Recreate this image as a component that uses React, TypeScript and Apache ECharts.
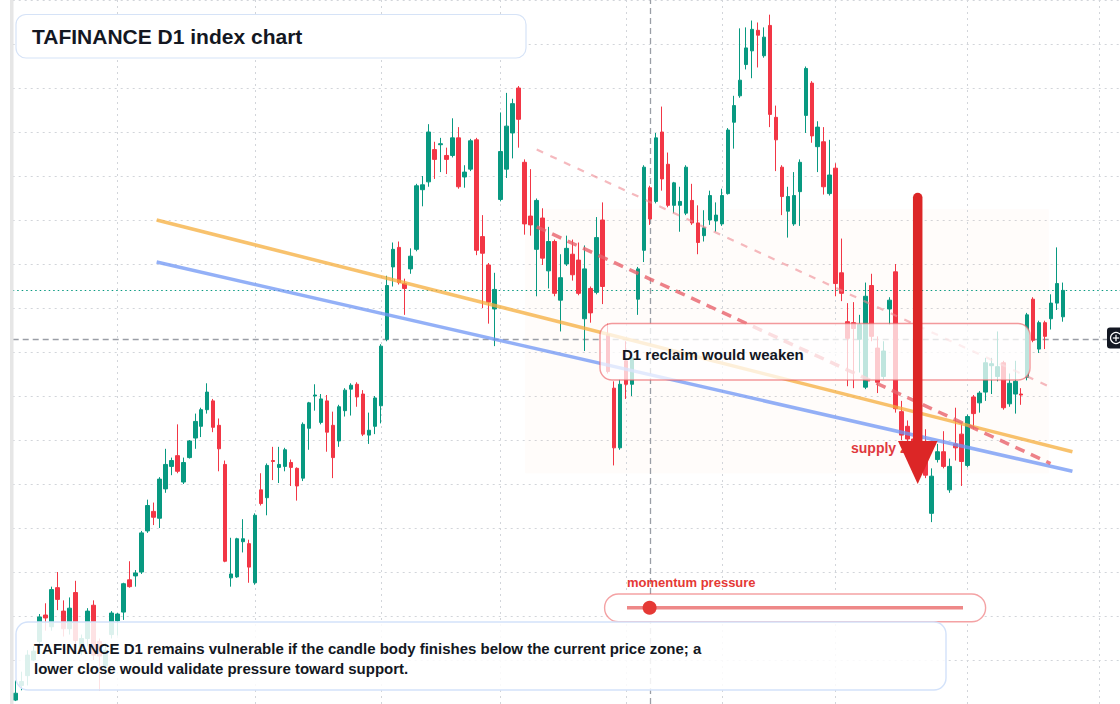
import React, { useEffect, useRef } from 'react';
import * as echarts from 'echarts';

// ---- categories (daily sessions; 176 traded + empty right margin) ----
const sessionCount = 185;
const categories: string[] = Array.from({ length: sessionCount }, (_, i) => 'S' + (i + 1));

// ---- OHLC values (index points) ----
const opens = [
  4504, 4519, 4529, 4545, 4564, 4591, 4579, 4619, 4595, 4577,
  4614, 4557, 4567, 4601, 4564, 4539, 4571, 4585, 4594, 4627,
  4631, 4635, 4677, 4697, 4690, 4720, 4743, 4754, 4727, 4752,
  4772, 4784, 4801, 4810, 4785, 4745, 4629, 4630, 4666, 4664,
  4624, 4719, 4711, 4749, 4742, 4743, 4747, 4741, 4731, 4782,
  4815, 4788, 4810, 4785, 4769, 4800, 4822, 4827, 4817, 4775,
  4784, 4805, 4873, 4947, 4967, 4930, 4945, 4965, 5026, 5034,
  5067, 5072, 5061, 5061, 5079, 5039, 5047, 5077, 4978, 4949,
  4904, 5016, 5047, 5084, 5130, 5054, 4999, 4965, 4997, 4943,
  4973, 4913, 4950, 4960, 4954, 4894, 4925, 4921, 4995, 4878,
  4823, 4762, 4851, 4827, 4914, 4964, 5028, 5014, 5085, 5052,
  5010, 5010, 5002, 5015, 4992, 4979, 4995, 4994, 4991, 5022,
  5095, 5122, 5154, 5168, 5189, 5163, 5194, 5100, 5049, 5004,
  4991, 5024, 5102, 5135, 5070, 5075, 5022, 5048, 4941, 4891,
  4890, 4873, 4824, 4928, 4864, 4835, 4904, 4942, 4799, 4784,
  4771, 4789, 4760, 4695, 4750, 4758, 4719, 4766, 4776, 4744,
  4814, 4808, 4819, 4846, 4835, 4849, 4807, 4817, 4817, 4834,
  4914, 4863, 4890, 4894, 4910, 4896,
];
const closes = [
  4511, 4523, 4550, 4554, 4589, 4588, 4617, 4607, 4577, 4598,
  4565, 4567, 4595, 4550, 4549, 4555, 4593, 4592, 4623, 4620,
  4634, 4675, 4703, 4691, 4730, 4745, 4749, 4738, 4747, 4769,
  4789, 4801, 4819, 4783, 4761, 4646, 4633, 4669, 4669, 4640,
  4693, 4705, 4744, 4748, 4745, 4760, 4742, 4723, 4786, 4808,
  4816, 4812, 4778, 4752, 4804, 4821, 4826, 4814, 4776, 4780,
  4813, 4866, 4928, 4965, 4931, 4925, 4958, 5030, 5031, 5085,
  5057, 5073, 5057, 5079, 5029, 5044, 5076, 4964, 4961, 4911,
  4924, 5065, 5091, 5114, 5098, 4991, 4990, 5015, 4956, 4973,
  4920, 4936, 4966, 4939, 4920, 4945, 4900, 4977, 4927, 4840,
  4762, 4827, 4827, 4854, 4945, 5049, 4996, 5079, 5037, 5010,
  5033, 5014, 5049, 4992, 4972, 4987, 5020, 5000, 5020, 5087,
  5112, 5138, 5171, 5190, 5184, 5182, 5103, 5077, 5019, 5019,
  5020, 5054, 5150, 5081, 5090, 5029, 5041, 4930, 4920, 4874,
  4884, 4888, 4917, 4876, 4829, 4861, 4913, 4802, 4775, 4771,
  4754, 4760, 4734, 4733, 4758, 4743, 4743, 4762, 4748, 4794,
  4797, 4818, 4849, 4848, 4845, 4803, 4828, 4830, 4816, 4898,
  4872, 4890, 4876, 4910, 4930, 4923,
];
const lows = [
  4503, 4514, 4519, 4544, 4554, 4575, 4575, 4596, 4569, 4571,
  4557, 4550, 4559, 4545, 4514, 4530, 4567, 4570, 4586, 4619,
  4620, 4633, 4675, 4683, 4680, 4716, 4734, 4736, 4725, 4751,
  4761, 4773, 4797, 4778, 4738, 4645, 4620, 4629, 4655, 4624,
  4622, 4703, 4693, 4729, 4726, 4738, 4723, 4708, 4728, 4760,
  4800, 4786, 4758, 4731, 4763, 4794, 4795, 4804, 4774, 4766,
  4776, 4787, 4871, 4927, 4929, 4898, 4940, 4963, 5009, 5029,
  5037, 5044, 5042, 5059, 5027, 5028, 5045, 4959, 4905, 4889,
  4866, 5014, 5038, 5058, 5069, 4980, 4979, 4917, 4949, 4925,
  4917, 4881, 4948, 4933, 4918, 4861, 4890, 4919, 4909, 4838,
  4744, 4760, 4812, 4815, 4898, 4952, 4990, 5012, 5025, 5008,
  5002, 4983, 5000, 4990, 4960, 4973, 4990, 4983, 4989, 5021,
  5068, 5120, 5149, 5140, 5151, 5161, 5090, 5045, 5000, 4977,
  4989, 4989, 5084, 5074, 5044, 5021, 5020, 4917, 4912, 4825,
  4823, 4839, 4822, 4871, 4818, 4832, 4888, 4798, 4770, 4768,
  4751, 4754, 4731, 4686, 4747, 4741, 4716, 4749, 4723, 4742,
  4781, 4798, 4810, 4817, 4830, 4801, 4804, 4797, 4806, 4831,
  4870, 4859, 4863, 4883, 4903, 4891,
];
const highs = [
  4524, 4533, 4555, 4559, 4592, 4603, 4620, 4635, 4606, 4609,
  4626, 4571, 4598, 4606, 4567, 4562, 4595, 4593, 4624, 4646,
  4637, 4677, 4709, 4706, 4732, 4761, 4752, 4786, 4752, 4770,
  4797, 4803, 4828, 4812, 4792, 4749, 4670, 4670, 4689, 4668,
  4695, 4736, 4746, 4763, 4763, 4762, 4750, 4742, 4788, 4809,
  4827, 4817, 4816, 4799, 4806, 4823, 4828, 4829, 4821, 4798,
  4815, 4868, 4938, 4972, 4973, 4935, 4966, 5032, 5040, 5093,
  5075, 5079, 5069, 5099, 5090, 5051, 5078, 5079, 5000, 4951,
  4941, 5105, 5125, 5119, 5132, 5057, 5047, 5017, 5007, 4988,
  4975, 4960, 4979, 4975, 4972, 4969, 4927, 4998, 5013, 4889,
  4830, 4832, 4871, 4858, 4947, 5051, 5030, 5084, 5111, 5064,
  5034, 5029, 5051, 5032, 5010, 5005, 5025, 5013, 5027, 5089,
  5122, 5191, 5192, 5199, 5197, 5192, 5205, 5112, 5051, 5029,
  5044, 5057, 5152, 5137, 5096, 5090, 5077, 5053, 4976, 4910,
  4911, 4898, 4931, 4940, 4876, 4871, 4916, 4950, 4810, 4790,
  4778, 4794, 4781, 4741, 4766, 4779, 4751, 4803, 4786, 4796,
  4816, 4820, 4854, 4854, 4881, 4851, 4838, 4851, 4823, 4900,
  4916, 4892, 4892, 4919, 4967, 4931,
];

// ---- guides ----
const monthStartSessions = [17, 40, 61, 81, 102, 118, 137, 159, 181];
const crosshairSession = 106;
const crosshairPrice = 4873;
const resistanceLine = [[23.55, 4995], [176.55, 4758]];
const supportLine = [[23.55, 4952], [176.55, 4738]];
const upperChannel = [[87.05, 5067], [172.9, 4824]];
const lowerChannel = [[87.05, 4988], [172.9, 4746]];
const supplyZone = { from: [85.1, 5006], to: [172.6, 4736] };

const yMin = 4500;
const yMax = 5220;
const yStep = 45;

const FONT = "'Liberation Sans', Arial, sans-serif";
const UP = '#089981';
const DOWN = '#f23645';

function buildOption() {
  const candles = opens.map((o, i) => [o, closes[i], lows[i], highs[i]]);
  const lastClose = closes[closes.length - 1];
  const mk = (data: number[][], color: string, width: number, type: any, opacity: number, z: number) => ({
    type: 'line',
    xAxisIndex: 1,
    yAxisIndex: 0,
    data,
    showSymbol: false,
    symbol: 'none',
    silent: true,
    z,
    lineStyle: { color, width, type, opacity, cap: 'butt' },
  });
  return {
    animation: false,
    backgroundColor: '#ffffff',
    grid: { left: 12.7, right: -2.7, top: -4.14, bottom: -2.1, containLabel: false },
    xAxis: [
      { type: 'category', data: categories, boundaryGap: true, show: false },
      { type: 'value', min: -0.5, max: sessionCount - 0.5, show: false },
    ],
    yAxis: {
      type: 'value',
      min: yMin,
      max: yMax,
      interval: yStep,
      axisLabel: { show: false },
      axisLine: { show: false },
      axisTick: { show: false },
      splitLine: { show: true, lineStyle: { color: '#d2d5da', width: 1, type: [2, 4] } },
    },
    series: [
      {
        type: 'line',
        name: 'guides',
        xAxisIndex: 1,
        yAxisIndex: 0,
        data: [[-0.5, yMin]],
        symbol: 'none',
        silent: true,
        z: 1,
        lineStyle: { opacity: 0 },
        markArea: {
          silent: true,
          z: 0,
          itemStyle: { color: 'rgba(240,150,90,0.03)' },
          data: [[{ xAxis: supplyZone.from[0], yAxis: supplyZone.from[1] }, { xAxis: supplyZone.to[0], yAxis: supplyZone.to[1] }]],
        },
        markLine: {
          silent: true,
          z: 1,
          symbol: ['none', 'none'],
          label: { show: false },
          data: [
            ...monthStartSessions.map((s) => ({ xAxis: s, lineStyle: { color: '#d2d5da', width: 1, type: [2, 4] } })),
            { xAxis: crosshairSession, lineStyle: { color: '#9a9ea6', width: 1.3, type: [6, 4] } },
            { yAxis: crosshairPrice, lineStyle: { color: '#9a9ea6', width: 1.3, type: [6, 4] } },
          ],
        },
      },
      {
        type: 'candlestick',
        name: 'TAFINANCE D1',
        xAxisIndex: 0,
        yAxisIndex: 0,
        data: candles,
        barWidth: 4,
        z: 3,
        itemStyle: { color: UP, color0: DOWN, borderColor: UP, borderColor0: DOWN, borderWidth: 1 },
        markLine: {
          silent: true,
          z: 2,
          symbol: ['none', 'none'],
          label: { show: false },
          data: [{ yAxis: lastClose, lineStyle: { color: UP, width: 1.2, type: [1.5, 3] } }],
        },
      },
      mk(resistanceLine, '#f6ad3c', 3.5, 'solid', 0.75, 4),
      mk(supportLine, '#6f95f4', 3.5, 'solid', 0.75, 4),
      mk(upperChannel, '#ef8a92', 2.2, [7, 8], 0.6, 4),
      mk(lowerChannel, '#e9626c', 3.5, [10, 7], 0.8, 4),
    ],
    graphic: {
      elements: [
        { type: 'rect', z: 50, silent: true, shape: { x: 10, y: 0, width: 3.5, height: 704 }, style: { fill: '#e6e6e6' } },
        // title
        { type: 'rect', z: 60, shape: { x: 16, y: 14.5, width: 510, height: 43.5, r: 10 }, style: { fill: '#ffffff', stroke: '#d6e3f7', lineWidth: 1.2 } },
        { type: 'text', z: 61, style: { text: 'TAFINANCE D1 index chart', x: 32, y: 36.5, verticalAlign: 'middle', font: `bold 21px ${FONT}`, fill: '#131722' } },
        // reclaim box
        { type: 'rect', z: 60, shape: { x: 600, y: 323.5, width: 430, height: 56.5, r: 12 }, style: { fill: 'rgba(255,255,255,0.74)', stroke: 'rgba(236,100,104,0.65)', lineWidth: 1.4 } },
        { type: 'text', z: 61, style: { text: 'D1 reclaim would weaken', x: 622, y: 354, verticalAlign: 'middle', font: `bold 15px ${FONT}`, fill: '#131722' } },
        // supply label + arrow
        { type: 'text', z: 62, style: { text: 'supply zone', x: 851, y: 448, verticalAlign: 'middle', font: `bold 14px ${FONT}`, fill: '#e0393e' } },
        { type: 'line', z: 63, shape: { x1: 917.7, y1: 197.5, x2: 917.7, y2: 446 }, style: { stroke: '#dc2626', lineWidth: 9.5, lineCap: 'round' } },
        { type: 'polygon', z: 63, shape: { points: [[898, 441], [937.5, 441], [917.7, 484]] }, style: { fill: '#dc2626' } },
        // momentum pill
        { type: 'text', z: 61, style: { text: 'momentum pressure', x: 627, y: 582.7, verticalAlign: 'middle', font: `bold 13px ${FONT}`, fill: '#e53935' } },
        { type: 'rect', z: 60, shape: { x: 604.6, y: 594, width: 381, height: 27.7, r: 13.8 }, style: { fill: '#ffffff', stroke: 'rgba(236,100,104,0.6)', lineWidth: 1.4 } },
        { type: 'line', z: 61, shape: { x1: 627, y1: 607.7, x2: 963, y2: 607.7 }, style: { stroke: '#ee8888', lineWidth: 3.4 } },
        { type: 'circle', z: 62, shape: { cx: 649.6, cy: 607.7, r: 7 }, style: { fill: '#e53935' } },
        // bottom note
        { type: 'rect', z: 60, shape: { x: 16, y: 622, width: 930, height: 68, r: 12 }, style: { fill: 'rgba(255,255,255,0.86)', stroke: '#d3e2fa', lineWidth: 1.4 } },
        { type: 'text', z: 61, style: { text: 'TAFINANCE D1 remains vulnerable if the candle body finishes below the current price zone; a', x: 34, y: 648.3, verticalAlign: 'middle', font: `bold 15px ${FONT}`, fill: '#131722' } },
        { type: 'text', z: 61, style: { text: 'lower close would validate pressure toward support.', x: 34, y: 668.3, verticalAlign: 'middle', font: `bold 15px ${FONT}`, fill: '#131722' } },
        // crosshair price button
        { type: 'rect', z: 60, shape: { x: 1107, y: 327.5, width: 20, height: 21, r: 3 }, style: { fill: '#131722' } },
        { type: 'circle', z: 61, shape: { cx: 1116, cy: 338, r: 5.5 }, style: { fill: 'none', stroke: '#ffffff', lineWidth: 1.2 } },
        { type: 'line', z: 61, shape: { x1: 1112.8, y1: 338, x2: 1119.2, y2: 338 }, style: { stroke: '#ffffff', lineWidth: 1.2 } },
        { type: 'line', z: 61, shape: { x1: 1116, y1: 334.8, x2: 1116, y2: 341.2 }, style: { stroke: '#ffffff', lineWidth: 1.2 } },
      ],
    },
  };
}

export default function App() {
  const ref = useRef<HTMLDivElement>(null);
  useEffect(() => {
    document.body.style.margin = '0';
    const chart = echarts.init(ref.current as HTMLDivElement, null, { renderer: 'svg' });
    chart.setOption(buildOption() as any);
    return () => chart.dispose();
  }, []);
  return (
    <div
      ref={ref}
      style={{ position: 'absolute', left: 0, top: 0, width: 1120, height: 704, background: '#ffffff' }}
    />
  );
}
